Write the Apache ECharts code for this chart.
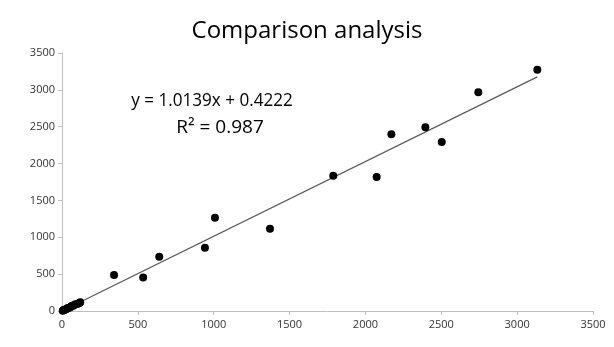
<!DOCTYPE html>
<html>
<head>
<meta charset="utf-8">
<script src="https://cdn.jsdelivr.net/npm/echarts@6/dist/echarts.min.js"></script>
<style>html,body{margin:0;padding:0;background:#fff}#c{width:614px;height:347px}</style>
</head>
<body>
<div id="c"></div>
<script>
const titleText = 'Comparison analysis';
const equationText = 'y = 1.0139x + 0.4222';
const r2Text = 'R² = 0.987';
const slope = 1.0139;
const intercept = 0.4222;
const xValues = [5, 10, 15, 20, 28, 35, 42, 50, 58, 65, 75, 85, 95, 105, 115, 120,
  343, 535, 641, 942, 1008, 1371, 1788, 2074, 2171, 2395, 2503, 2744, 3133];
const yValues = [3, 12, 14, 22, 25, 38, 40, 48, 55, 70, 72, 88, 95, 100, 110, 118,
  490, 455, 737, 859, 1266, 1117, 1836, 1818, 2397, 2492, 2293, 2967, 3274];
const axisTicks = [0, 500, 1000, 1500, 2000, 2500, 3000, 3500];

const points = xValues.map((x, i) => [x, yValues[i]]);
const xMin = 0, xMax = Math.max(...xValues);
const trend = [[xMin, slope * xMin + intercept], [xMax, slope * xMax + intercept]];

const font = '"Open Sans", "Liberation Sans", sans-serif';
const chart = echarts.init(document.getElementById('c'));
const labelStyle = { color: '#333', fontSize: 11, fontFamily: font, formatter: v => String(v) };
const axisCommon = {
  type: 'value', min: axisTicks[0], max: axisTicks[axisTicks.length - 1], interval: 500,
  axisLine: { show: true, lineStyle: { color: '#bfbfbf', width: 1 } },
  axisTick: { show: true, length: 4, lineStyle: { color: '#bfbfbf' } },
  splitLine: { show: false }
};
chart.setOption({
  animation: false,
  title: { text: titleText, left: 'center', top: 14,
    textStyle: { fontFamily: font, fontSize: 24, fontWeight: 'normal', color: '#000' } },
  grid: { left: 62, right: 21, top: 53, bottom: 36 },
  xAxis: Object.assign({}, axisCommon, { axisLabel: Object.assign({}, labelStyle, { margin: 8 }) }),
  yAxis: Object.assign({}, axisCommon, { axisLabel: Object.assign({}, labelStyle, { margin: 7 }) }),
  graphic: [
    { type: 'text', x: 212, y: 101, scaleX: 0.95, style: { text: equationText, align: 'center', verticalAlign: 'middle',
      font: '18px ' + font, fill: '#000' } },
    { type: 'text', x: 220, y: 128, style: { text: r2Text, align: 'center', verticalAlign: 'middle',
      font: '19px ' + font, fill: '#000' } }
  ],
  series: [
    { type: 'line', data: trend, symbol: 'none', lineStyle: { color: '#5a5a5a', width: 1.3 }, z: 1, silent: true },
    { type: 'scatter', data: points, symbol: 'circle', symbolSize: 8, itemStyle: { color: '#000', opacity: 1 }, z: 2 }
  ]
});
</script>
</body>
</html>
